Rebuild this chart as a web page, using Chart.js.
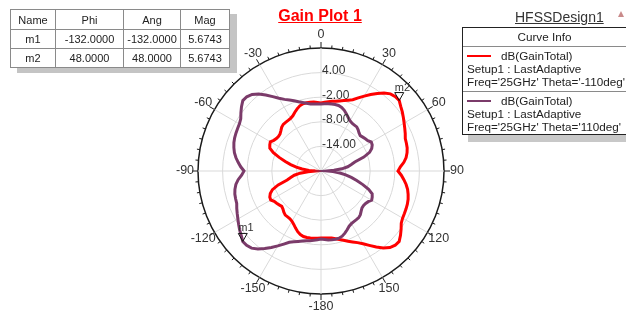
<!DOCTYPE html>
<html>
<head>
<meta charset="utf-8">
<script src="https://cdn.jsdelivr.net/npm/chart.js@4.4.0/dist/chart.umd.min.js"></script>
<style>
  body { margin: 0; background: #fff; font-family: "Liberation Sans", Arial, sans-serif; }
  #wrap { position: relative; width: 626px; height: 322px; overflow: hidden; background: #fff; }
  #c { position: absolute; left: 0; top: 0; }
  .title { position: absolute; left: 0; width: 640px; top: 7px; text-align: center; color: #ff0000;
           font-weight: bold; font-size: 16px; line-height: 18px; text-decoration: underline; }
  .design { position: absolute; left: 515px; top: 9px; font-size: 14px; line-height: 16px; color: #333;
            text-decoration: underline; }
  .logo { position: absolute; left: 618px; top: 11px; width: 0; height: 0;
          border-left: 3px solid transparent; border-right: 3px solid transparent; border-bottom: 6px solid #c98a8a; }
  table.mk { position: absolute; left: 10px; top: 9px; border-collapse: collapse; border: 1px solid #222;
             box-shadow: 7px 5px 0 #c4c4c4; background: #fff; font-size: 11px; color: #222; }
  table.mk td { border: 1px solid #8a8a8a; text-align: center; padding: 0; height: 18px; line-height: 18px; }
  .legend { position: absolute; left: 462px; top: 27px; width: 163px; height: 106px; border: 1px solid #222;
            box-shadow: 6px 7px 0 #c8c8c8; background: #fff; font-size: 11.7px; color: #222; }
  .legend .hd { height: 18px; line-height: 18px; text-align: center; border-bottom: 1px solid #8a8a8a; }
  .legend .ent { position: relative; height: 44px; border-bottom: 1px solid #8a8a8a; }
  .legend .ent:last-child { border-bottom: none; }
  .legend .ln { position: absolute; left: 4px; top: 8px; width: 24px; height: 2px; }
  .legend .t1 { position: absolute; left: 38px; top: 2px; line-height: 13px; white-space: nowrap; }
  .legend .t2 { position: absolute; left: 4px; top: 15px; line-height: 13px; white-space: nowrap; }
  .legend .t3 { position: absolute; left: 4px; top: 28px; line-height: 13px; white-space: nowrap; }
</style>
</head>
<body>
<div id="wrap">
  <canvas id="c" width="626" height="322"></canvas>
  <div class="title">Gain Plot 1</div>
  <div class="design">HFSSDesign1</div>
  <div class="logo"></div>
  <table class="mk" id="mk"></table>
  <div class="legend" id="legend"></div>
</div>
<script>
// Azimuth grid (deg, clockwise from top) used as the radar categories
const angles = Array.from({ length: 120 }, (_, i) => i * 3);

// dB(GainTotal) at Theta = -110 deg, one value per 3 deg of Phi starting at 0
const gainThetaNeg110 = [
  -3.41, -3.22, -3.02, -2.80, -2.61, -2.32, -1.95, -1.51, -0.98, 0.00,
  1.10, 2.24, 3.37, 4.44, 5.32, 5.66, 5.6743, 5.02, 4.51, 3.95,
  3.41, 2.93, 2.49, 2.02, 1.90, 1.76, 1.46, 1.02, 0.32, -0.61,
  -1.22, -0.39, 0.32, 1.02, 1.59, 2.00, 2.34, 2.56, 2.71, 2.83,
  2.98, 3.34, 4.15, 4.95, 5.66, 5.61, 5.12, 4.15, 2.93, 1.63,
  0.49, -0.39, -1.07, -1.63, -2.24, -2.68, -3.10, -3.44, -3.54, -3.61,
  -3.66, -3.59, -3.51, -3.46, -3.41, -3.46, -3.71, -4.15, -4.76, -5.37,
  -5.85, -6.10, -6.15, -6.15, -6.46, -6.88, -7.12, -6.88, -6.63, -6.39,
  -5.85, -5.98, -6.46, -7.32, -9.02, -11.46, -12.44, -13.41, -14.88, -16.83,
  -18.54, -17.07, -15.37, -13.90, -12.44, -10.98, -9.27, -7.56, -6.34, -5.98,
  -5.73, -6.27, -6.54, -6.63, -6.54, -6.15, -5.66, -5.37, -5.32, -5.29,
  -5.17, -4.88, -4.32, -3.76, -3.29, -3.02, -2.98, -3.00, -3.10, -3.27
];

// dB(GainTotal) at Theta = 110 deg, same Phi grid
const gainTheta110 = [
  -3.66, -3.59, -3.51, -3.46, -3.41, -3.46, -3.71, -4.15, -4.76, -5.37,
  -5.85, -6.10, -6.15, -6.15, -6.46, -6.88, -7.12, -6.88, -6.63, -6.39,
  -5.85, -5.98, -6.46, -7.32, -9.02, -11.46, -12.44, -13.41, -14.88, -16.83,
  -18.54, -17.07, -15.37, -13.90, -12.44, -10.98, -9.27, -7.56, -6.34, -5.98,
  -5.73, -6.27, -6.54, -6.63, -6.54, -6.15, -5.66, -5.37, -5.32, -5.29,
  -5.17, -4.88, -4.32, -3.76, -3.29, -3.02, -2.98, -3.00, -3.10, -3.27,
  -3.41, -3.22, -3.02, -2.80, -2.61, -2.32, -1.95, -1.51, -0.98, 0.00,
  1.10, 2.24, 3.37, 4.44, 5.32, 5.66, 5.6743, 5.02, 4.51, 3.95,
  3.41, 2.93, 2.49, 2.02, 1.90, 1.76, 1.46, 1.02, 0.32, -0.61,
  -1.22, -0.39, 0.32, 1.02, 1.59, 2.00, 2.34, 2.56, 2.71, 2.83,
  2.98, 3.34, 4.15, 4.95, 5.66, 5.61, 5.12, 4.15, 2.93, 1.63,
  0.49, -0.39, -1.07, -1.63, -2.24, -2.68, -3.10, -3.44, -3.54, -3.61
];

// Axis annotations
const radialTicks = [-14, -8, -2, 4];
const angleTicks = [0, 30, 60, 90, 120, 150, -180, -150, -120, -90, -60, -30];

// Markers
const markerNames = ['m1', 'm2'];
const markerPhi = [-132, 48];
const markerMag = [5.6743, 5.6743];

// Curve info
const curveNames = ['dB(GainTotal)', 'dB(GainTotal)'];
const curveSetup = ['Setup1 : LastAdaptive', 'Setup1 : LastAdaptive'];
const curveVars = ["Freq='25GHz' Theta='-110deg'", "Freq='25GHz' Theta='110deg'"];
const curveColors = ['#ff0000', '#7b3b6a'];

const R_MIN = -20, R_MAX = 10, R_STEP = 6;
const FONT = '"Liberation Sans", Arial, sans-serif';

function indexOfPhi(deg) {
  return Math.round((((deg % 360) + 360) % 360) / 3) % angles.length;
}

// marker table
(function () {
  const t = document.getElementById('mk');
  const widths = [44, 67, 56, 48];
  let html = '<tr>' + ['Name', 'Phi', 'Ang', 'Mag'].map((h, i) =>
    `<td style="width:${widths[i]}px;height:19px">${h}</td>`).join('') + '</tr>';
  markerNames.forEach((n, i) => {
    html += `<tr><td>${n}</td><td>${markerPhi[i].toFixed(4)}</td><td>${markerPhi[i].toFixed(4)}</td><td>${markerMag[i].toFixed(4)}</td></tr>`;
  });
  t.innerHTML = html;
})();

// curve info box
(function () {
  const L = document.getElementById('legend');
  let html = '<div class="hd">Curve Info</div>';
  curveNames.forEach((n, i) => {
    html += `<div class="ent"><div class="ln" style="background:${curveColors[i]}"></div>` +
      `<div class="t1">${n}</div><div class="t2">${curveSetup[i]}</div><div class="t3">${curveVars[i]}</div></div>`;
  });
  L.innerHTML = html;
})();

const polarDecor = {
  id: 'polarDecor',
  beforeDatasetsDraw(chart) {
    const s = chart.scales.r, ctx = chart.ctx;
    const R = s.drawingArea;
    ctx.save();
    ctx.strokeStyle = '#1a1a1a';
    ctx.lineWidth = 1;
    for (let a = 0; a < 360; a += 5) {
      const len = a % 30 === 0 ? 6 : 3;
      const t = a * Math.PI / 180;
      const sx = Math.sin(t), cy = -Math.cos(t);
      ctx.beginPath();
      ctx.moveTo(s.xCenter + sx * R, s.yCenter + cy * R);
      ctx.lineTo(s.xCenter + sx * (R + len), s.yCenter + cy * (R + len));
      ctx.stroke();
    }
    ctx.restore();
  },
  afterDatasetsDraw(chart) {
    const s = chart.scales.r, ctx = chart.ctx;
    const R = s.drawingArea;
    ctx.save();
    // radial tick labels
    ctx.font = '12px ' + FONT;
    ctx.fillStyle = '#333';
    ctx.textAlign = 'left';
    ctx.textBaseline = 'middle';
    radialTicks.forEach(v => {
      const d = s.getDistanceFromCenterForValue(v);
      ctx.fillText(v.toFixed(2), s.xCenter + 1, s.yCenter - d - 2);
    });
    // angle labels
    ctx.font = '12.5px ' + FONT;
    ctx.textAlign = 'center';
    angleTicks.forEach(a => {
      const p = s.getPointPosition(indexOfPhi(a), R + 13);
      ctx.fillText(String(a), p.x, p.y);
    });
    // markers
    ctx.strokeStyle = '#111';
    ctx.lineWidth = 1;
    ctx.font = '11px ' + FONT;
    ctx.textAlign = 'left';
    ctx.textBaseline = 'alphabetic';
    markerNames.forEach((n, i) => {
      const p = s.getPointPositionForValue(indexOfPhi(markerPhi[i]), markerMag[i]);
      ctx.beginPath();
      ctx.moveTo(p.x, p.y);
      ctx.lineTo(p.x - 4.5, p.y - 8);
      ctx.lineTo(p.x + 4.5, p.y - 8);
      ctx.closePath();
      ctx.stroke();
      ctx.fillText(n, p.x - 4.5, p.y - 10);
    });
    ctx.restore();
  }
};

new Chart(document.getElementById('c'), {
  type: 'radar',
  data: {
    labels: angles,
    datasets: [
      { label: curveNames[0], data: gainThetaNeg110, borderColor: curveColors[0], borderWidth: 3,
        pointRadius: 0, fill: false, order: 2 },
      { label: curveNames[1], data: gainTheta110, borderColor: curveColors[1], borderWidth: 3,
        pointRadius: 0, fill: false, order: 1 }
    ]
  },
  options: {
    responsive: false,
    animation: false,
    devicePixelRatio: 1,
    layout: { padding: { left: 198, right: 182, top: 48, bottom: 28 } },
    plugins: { legend: { display: false }, tooltip: { enabled: false } },
    elements: { line: { tension: 0 } },
    scales: {
      r: {
        min: R_MIN, max: R_MAX,
        ticks: { stepSize: R_STEP, display: false },
        pointLabels: { display: false },
        grid: {
          circular: true,
          color: c => (c.tick && c.tick.value === R_MAX ? '#1a1a1a' : '#d9d9d9'),
          lineWidth: c => (c.tick && c.tick.value === R_MAX ? 1.5 : 1)
        },
        angleLines: {
          color: '#d9d9d9',
          lineWidth: c => (c.index % 10 === 0 ? 1 : 0)
        }
      }
    }
  },
  plugins: [polarDecor]
});
</script>
</body>
</html>
